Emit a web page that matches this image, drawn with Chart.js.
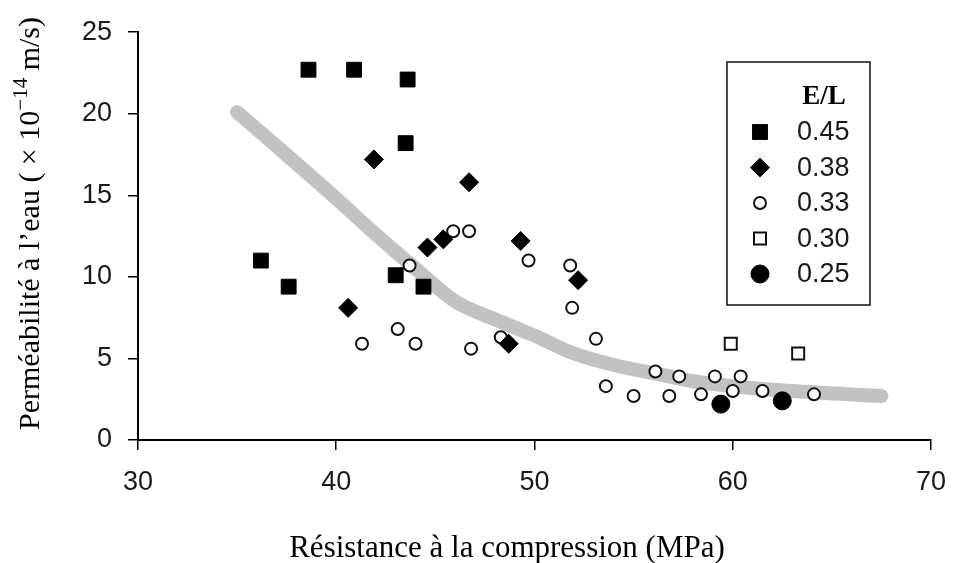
<!DOCTYPE html>
<html>
<head>
<meta charset="utf-8">
<script src="https://cdn.jsdelivr.net/npm/chart.js@4.4.1/dist/chart.umd.min.js"></script>
<style>
  html, body { margin: 0; padding: 0; background: #fff; }
  #wrap { width: 962px; height: 563px; }
</style>
</head>
<body>
<div id="wrap"><canvas id="chart" width="962" height="563"></canvas></div>
<script>
// E/L = 0.45 (filled squares)
const x045 = [36.2, 37.6, 38.6, 40.9, 43.6, 43.5, 43.0, 44.4];
const y045 = [11.0, 9.4, 22.7, 22.7, 22.1, 18.2, 10.1, 9.4];

// E/L = 0.38 (diamonds)
const x038 = [40.6, 41.9, 44.6, 45.4, 46.7, 49.3, 48.7, 52.2];
const y038 = [8.1, 17.2, 11.8, 12.3, 15.8, 12.2, 5.9, 9.8];

// E/L = 0.33 (open circles)
const x033 = [41.3, 43.1, 44.0, 43.7, 45.9, 46.7, 46.8, 48.3, 49.7, 51.8, 51.9, 53.1,
              53.6, 55.0, 56.1, 56.8, 57.3, 58.4, 59.1, 60.0, 60.4, 61.5, 64.1];
const y033 = [5.9, 6.8, 5.9, 10.7, 12.8, 12.8, 5.6, 6.3, 11.0, 10.7, 8.1, 6.2,
              3.3, 2.7, 4.2, 2.7, 3.9, 2.8, 3.9, 3.0, 3.9, 3.0, 2.8];

// E/L = 0.30 (open squares)
const x030 = [59.9, 63.3];
const y030 = [5.9, 5.3];

// E/L = 0.25 (filled circles)
const x025 = [59.4, 62.5];
const y025 = [2.2, 2.4];

// grey trend curve
const xTrend = [35, 37, 40, 42, 44, 46, 48, 50, 52, 54, 56, 58, 60, 63, 67.5];
const yTrend = [20.1, 18.0, 14.8, 12.6, 10.5, 8.5, 7.4, 6.4, 5.3, 4.6, 4.1, 3.6, 3.3, 3.0, 2.7];

const legendTitle = "E/L";
const seriesNames = ["0.45", "0.38", "0.33", "0.30", "0.25"];
const xTitle = "Résistance à la compression (MPa)";

function pts(xs, ys) {
  return xs.map((x, i) => ({x: x, y: ys[i]}));
}

const tickFont = {family: "'Liberation Sans', Arial, sans-serif", size: 27};
const serif = "'Liberation Serif', 'Times New Roman', serif";

function marker(ctx, style, x, y, r, fill, stroke, lw) {
  ctx.beginPath();
  if (style === 'rect') {
    const s = r * Math.SQRT1_2;
    ctx.rect(x - s, y - s, 2 * s, 2 * s);
  } else if (style === 'rectRot') {
    ctx.moveTo(x - r, y); ctx.lineTo(x, y - r); ctx.lineTo(x + r, y); ctx.lineTo(x, y + r);
    ctx.closePath();
  } else {
    ctx.arc(x, y, r, 0, Math.PI * 2);
  }
  ctx.fillStyle = fill;
  ctx.fill();
  if (lw) { ctx.lineWidth = lw; ctx.strokeStyle = stroke; ctx.stroke(); }
}

//legend box drawn inside the plot
const boxLegend = {
  id: 'boxLegend',
  afterDraw(chart) {
    const ctx = chart.ctx;
    ctx.save();
    ctx.lineWidth = 1.5;
    ctx.strokeStyle = '#111';
    ctx.strokeRect(727, 62, 143, 243);
    ctx.fillStyle = '#000';
    ctx.font = 'bold 27px ' + serif;
    ctx.textAlign = 'center';
    ctx.textBaseline = 'middle';
    ctx.fillText(legendTitle, 824, 97);
    ctx.font = '27px ' + tickFont.family;
    ctx.textAlign = 'left';
    seriesNames.forEach((name, i) => {
      const ds = chart.data.datasets[i];
      const y = 132 + i * 35.5;
      marker(ctx, ds.pointStyle, 760, y, ds.pointRadius, ds.backgroundColor, ds.borderColor, ds.borderWidth);
      ctx.fillStyle = '#1a1a1a';
      ctx.fillText(name, 797, y + 1);
    });
    ctx.restore();
  }
};

//axis titles (y one has a real superscript)
const axisTitles = {
  id: 'axisTitles',
  afterDraw(chart) {
    const ctx = chart.ctx;
    ctx.save();
    ctx.fillStyle = '#000';
    ctx.font = '31px ' + serif;
    ctx.textAlign = 'center';
    ctx.textBaseline = 'alphabetic';
    ctx.fillText(xTitle, 507, 557);

    const parts = [
      {t: "Perméabilité à l’eau ( × 10", f: '30px ' + serif, dy: 0},
      {t: "−14", f: '21px ' + serif, dy: -12},
      {t: " m/s)", f: '30px ' + serif, dy: 0}
    ];
    ctx.translate(39, 430);
    ctx.rotate(-Math.PI / 2);
    ctx.textAlign = 'left';
    let x = 0;
    parts.forEach(p => { ctx.font = p.f; ctx.fillText(p.t, x, p.dy); x += ctx.measureText(p.t).width; });
    ctx.restore();
  }
};

const data = {
  datasets: [
    {label: seriesNames[0], data: pts(x045, y045), pointStyle: 'rect', pointRadius: 10.5,
     backgroundColor: '#000', borderColor: '#000', borderWidth: 1},
    {label: seriesNames[1], data: pts(x038, y038), pointStyle: 'rectRot', pointRadius: 9.5,
     backgroundColor: '#000', borderColor: '#000', borderWidth: 1},
    {label: seriesNames[2], data: pts(x033, y033), pointStyle: 'circle', pointRadius: 6,
     backgroundColor: '#fff', borderColor: '#111', borderWidth: 2},
    {label: seriesNames[3], data: pts(x030, y030), pointStyle: 'rect', pointRadius: 8.5,
     backgroundColor: '#fff', borderColor: '#111', borderWidth: 2},
    {label: seriesNames[4], data: pts(x025, y025), pointStyle: 'circle', pointRadius: 9,
     backgroundColor: '#000', borderColor: '#000', borderWidth: 1},
    {type: 'line', label: 'trend', data: pts(xTrend, yTrend), showLine: true, pointRadius: 0,
     borderColor: '#c2c2c2', borderWidth: 14, borderCapStyle: 'round', borderJoinStyle: 'round',
     cubicInterpolationMode: 'monotone', fill: false}
  ]
};

const axisCommon = {
  type: 'linear',
  grid: {drawOnChartArea: false, drawTicks: true, tickLength: 10, color: '#000', lineWidth: 1.5},
  border: {color: '#000', width: 2}
};

const config = {
  type: 'scatter',
  data: data,
  options: {
    responsive: false,
    animation: false,
    devicePixelRatio: 1,
    layout: {padding: {top: 23, right: 18, left: 0, bottom: 0}},
    plugins: {legend: {display: false}, tooltip: {enabled: false}},
    scales: {
      x: Object.assign({}, axisCommon, {
        min: 30, max: 70,
        ticks: {stepSize: 10, font: tickFont, color: '#1a1a1a', padding: 16},
        afterFit(scale) { scale.height = 123; }
      }),
      y: Object.assign({}, axisCommon, {
        min: 0, max: 25,
        ticks: {stepSize: 5, font: tickFont, color: '#1a1a1a', padding: 16},
        afterFit(scale) { scale.width = 138; }
      })
    }
  },
  plugins: [boxLegend, axisTitles]
};

const chart = new Chart(document.getElementById('chart'), config);
</script>
</body>
</html>
